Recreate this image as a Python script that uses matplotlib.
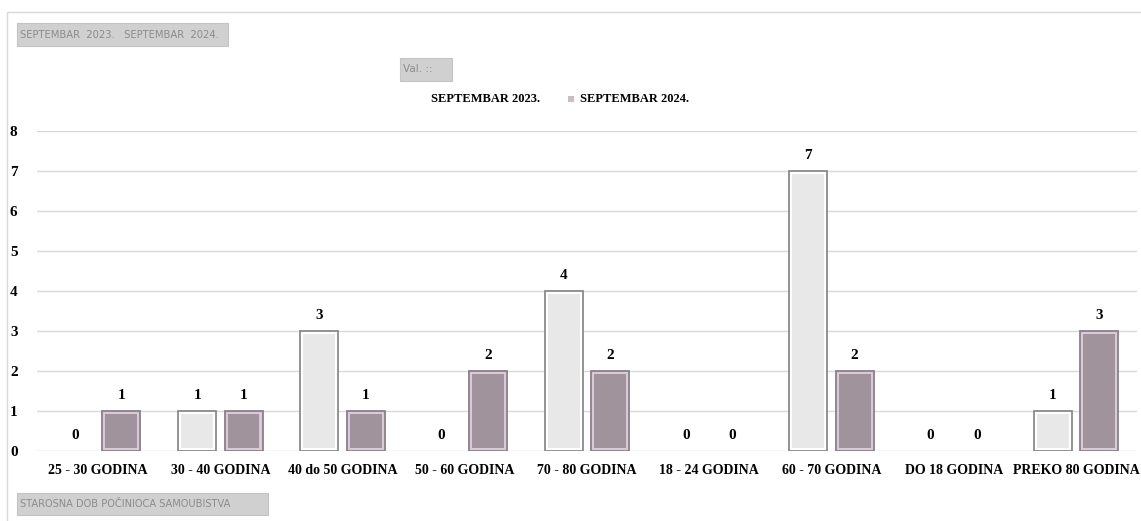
import numpy as np
import matplotlib.pyplot as plt
from matplotlib.patches import Rectangle
from matplotlib.lines import Line2D

categories = ['25 - 30 GODINA', '30 - 40 GODINA', '40 do 50 GODINA', '50 - 60 GODINA',
              '70 - 80 GODINA', '18 - 24 GODINA', '60 - 70 GODINA', 'DO 18 GODINA',
              'PREKO 80 GODINA']
sept_2023 = [0, 1, 3, 0, 4, 0, 7, 0, 1]
sept_2024 = [1, 1, 1, 2, 2, 0, 2, 0, 3]
series_names = ['SEPTEMBAR 2023.', 'SEPTEMBAR 2024.']

plt.rcParams['font.family'] = ['Liberation Serif', 'DejaVu Serif']

fig = plt.figure(figsize=(11.41, 5.21), dpi=100)
ax = fig.add_axes([37 / 1141, 1 - 451 / 521, 1100 / 1141, 320 / 521])

x = np.arange(len(categories))
w = 0.31
off = 0.19
# inner inset (3px) in data units
dx = 3 / 122.2
dy = 3 / 40.0

def draw_bars(xs, vals, border, fill, edge):
    for xi, v in zip(xs, vals):
        if v <= 0:
            continue
        ax.bar(xi, v, width=w, color=border, edgecolor=edge, linewidth=1.3, zorder=2)
        ax.bar(xi, v - 2 * dy, bottom=dy, width=w - 2 * dx, color=fill,
               linewidth=0, zorder=3)

draw_bars(x - off, sept_2023, 'white', '#e8e8e8', '#8a8a8a')
draw_bars(x + off, sept_2024, '#dac9d6', '#a0939b', '#8a8088')

for xs, vals in [(x - off, sept_2023), (x + off, sept_2024)]:
    for xi, v in zip(xs, vals):
        ax.annotate(str(v), (xi, v), xytext=(0, 6.5), textcoords='offset points',
                    ha='center', va='bottom', fontsize=11, fontweight='bold')

ax.set_xlim(-0.5, len(categories) - 0.5)
ax.set_ylim(0, 8)
ax.set_yticks(range(0, 9))
ax.set_xticks(x)
ax.set_xticklabels(categories, fontsize=10, fontweight='bold')
ax.tick_params(axis='y', length=0, pad=14, labelsize=11)
ax.tick_params(axis='x', length=0, pad=9)
for lab in ax.get_yticklabels():
    lab.set_fontweight('bold')
ax.grid(axis='y', color='#d9d9d9', linewidth=1, zorder=0)
ax.set_axisbelow(True)
for s in ax.spines.values():
    s.set_visible(False)

# legend row
fig.text(540 / 1141, 1 - 99 / 521, series_names[0], ha='right', va='center',
         fontsize=9, fontweight='bold')
fig.patches.append(Rectangle((568 / 1141, 1 - 102 / 521), 6 / 1141, 6 / 521,
                             transform=fig.transFigure, facecolor='#c9bcc6',
                             edgecolor='none'))
fig.text(580 / 1141, 1 - 99 / 521, series_names[1], ha='left', va='center',
         fontsize=9, fontweight='bold')

# pivot field buttons
def button(x0, y0, x1, y1, label, size=7):
    fig.patches.append(Rectangle((x0 / 1141, 1 - y1 / 521), (x1 - x0) / 1141,
                                 (y1 - y0) / 521, transform=fig.transFigure,
                                 facecolor='#d0d0d0', edgecolor='#c4c4c4', lw=0.8))
    fig.text((x0 + 3) / 1141, 1 - (y0 + y1) / 2 / 521, label, ha='left', va='center',
             fontsize=size, color='#8c8c8c', family=['DejaVu Sans'])

button(17, 23, 228, 46, 'SEPTEMBAR  2023.   SEPTEMBAR  2024.', 7.2)
button(400, 58, 452, 81, 'Val. ::', 7.5)
button(17, 493, 268, 515, 'STAROSNA DOB POČINIOCA SAMOUBISTVA', 7.1)

# outer chart frame
fig.lines.append(Line2D([6.5 / 1141, 6.5 / 1141, 1], [0, 1 - 12 / 521, 1 - 12 / 521],
                        transform=fig.transFigure, color='#d9d9d9', lw=1))

fig.savefig('out.png', dpi=100)
